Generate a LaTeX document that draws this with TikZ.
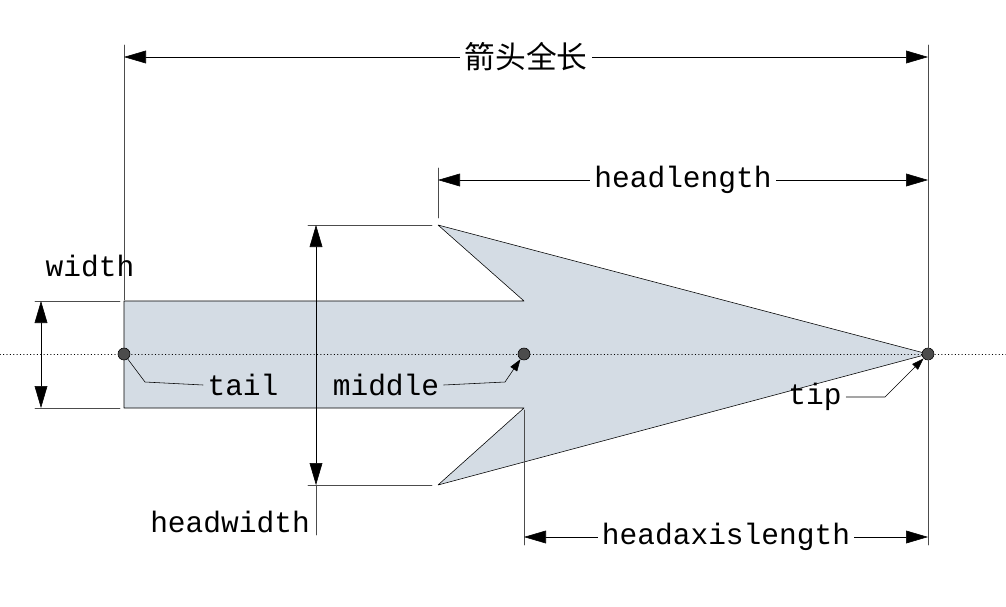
\documentclass[tikz,border=0pt]{standalone}
\usepackage{fontspec}
\setmonofont{Liberation Mono}
\newfontfamily\cjk{Noto Sans CJK SC}[Scale=0.95]
\usetikzlibrary{arrows.meta}
\definecolor{shaftfill}{RGB}{212,220,228}
\tikzset{
  dim/.style={thin, {Triangle[length=0.55cm,width=0.32cm]}-{Triangle[length=0.55cm,width=0.32cm]}},
  ext/.style={thin, black!70},
  lbl/.style={fill=white, inner sep=3pt, font=\ttfamily\fontsize{21}{21}\selectfont},
  pt/.style={circle, draw, fill=black!70, minimum size=0.3cm, inner sep=0pt},
  lead/.style={thin, -{Triangle[length=0.3cm,width=0.2cm]}}
}
\begin{document}
\begin{tikzpicture}[line cap=round, line join=round, x=0.025cm, y=-0.025cm]
                \useasboundingbox (0,0) rectangle (1006,606);

                % arrow shape
                \draw[fill=shaftfill, thin] (124,301) -- (524,301) -- (438,225) -- (928,354)
                      -- (438,485) -- (524,408) -- (124,408) -- cycle;
                \draw[dotted] (0,354) -- (1006,354);

                \node[pt] (tail) at (124,354) {};
                \node[pt] (middle) at (524,354) {};
                \node[pt] (tip) at (928,354) {};

                % extension lines
                \draw[ext] (124,45) -- (124,300);
                \draw[ext] (928,45) -- (928,545);
                \draw[ext] (438,168) -- (438,218);
                \draw[ext] (524,410) -- (524,545);
                \draw[ext] (308,225) -- (432,225);
                \draw[ext] (308,485) -- (432,485);
                \draw[ext] (35,301) -- (120,301);
                \draw[ext] (35,408) -- (120,408);
                \draw[ext] (316,485) -- (316,535);

                % dimensions
                \draw[dim] (124,57) -- (928,57) node[midway, lbl, font=\cjk\fontsize{23}{23}\selectfont] {箭头全长};
                \draw[dim] (438,180) -- (928,180) node[midway, lbl] {headlength};
                \draw[dim] (524,537) -- (928,537) node[midway, lbl] {headaxislength};
                \draw[dim] (316,225) -- (316,485);
                \draw[dim] (41,301) -- (41,408);

                \node[lbl, fill=none] (wlabel) at (90,266) {width};
                \node[lbl, fill=none] (hwlabel) at (230,522) {headwidth};

                % point labels
                \node[lbl, fill=none] (taillabel) at (243,385) {tail};
                \node[lbl, fill=none] (midlabel) at (386,385) {middle};
                \node[lbl, fill=none] (tiplabel) at (815,397) {tip};
                \draw[thin] (tail) -- (145,382) -- (taillabel.west);
                \draw[lead] (midlabel.east) -- (505,382) -- (middle);
                \draw[lead] (tiplabel.east) -- (885,397) -- (tip);

            \end{tikzpicture}
\end{document}
